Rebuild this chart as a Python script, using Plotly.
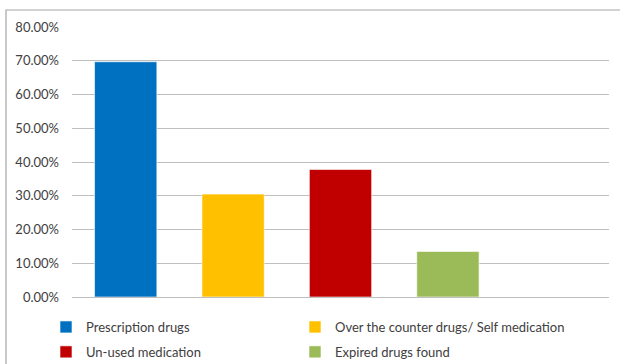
import plotly.graph_objects as go

categories = ["Prescription drugs", "Over the counter drugs/ Self medication",
              "Un-used medication", "Expired drugs found", ""]
values = [0.697, 0.305, 0.378, 0.135]
colors = ["#0070C0", "#FFC000", "#C00000", "#9BBB59"]
legend_ids = ["legend", "legend2", "legend", "legend2"]
y_ticks = [0, 0.1, 0.2, 0.3, 0.4, 0.5, 0.6, 0.7, 0.8]

W, H = 620, 364
L, R, T, B = 72, 11, 27, 67
pw, ph = W - L - R, H - T - B

fig = go.Figure()
for i, (name, v, c, lg) in enumerate(zip(categories[:4], values, colors, legend_ids)):
    fig.add_trace(go.Bar(x=[name], y=[v], name=name, marker_color=c,
                         marker_line=dict(color="rgba(255,255,255,0.6)", width=1),
                         width=0.58, legend=lg, legendgroup=f"g{i}"))

def px_x(p):
    return (p - L) / pw

def px_y(p):
    return (H - B - p) / ph

fig.add_shape(type="rect", xref="paper", yref="paper",
              x0=px_x(6), x1=px_x(640), y0=px_y(10), y1=px_y(380),
              line=dict(color="#a6a6a6", width=1.2), fillcolor="rgba(0,0,0,0)")

leg_common = dict(orientation="v", yanchor="top", xanchor="left",
                  itemwidth=30, tracegroupgap=5,
                  font=dict(family="Lato", size=13, color="#404040"),
                  bgcolor="rgba(0,0,0,0)")

fig.update_layout(
    width=W, height=H,
    margin=dict(l=L, r=R, t=T, b=B, autoexpand=False),
    paper_bgcolor="white", plot_bgcolor="white",
    barmode="overlay",
    font=dict(family="Lato", size=13, color="#404040"),
    xaxis=dict(type="category", categoryorder="array", categoryarray=categories,
               range=[-0.5, 4.5], showticklabels=False, showgrid=False,
               showline=False, zeroline=False, ticks=""),
    yaxis=dict(range=[0, 0.8], tickvals=y_ticks, tickformat=".2%",
               showgrid=True, gridcolor="#bfbfbf", gridwidth=1,
               zeroline=True, zerolinecolor="#bfbfbf", zerolinewidth=1,
               showline=False, ticks="", ticklabelstandoff=12),
    showlegend=True,
    legend=dict(x=px_x(46), y=px_y(312), **leg_common),
    legend2=dict(x=px_x(295), y=px_y(312), **leg_common),
)

fig.write_html("out.html")
